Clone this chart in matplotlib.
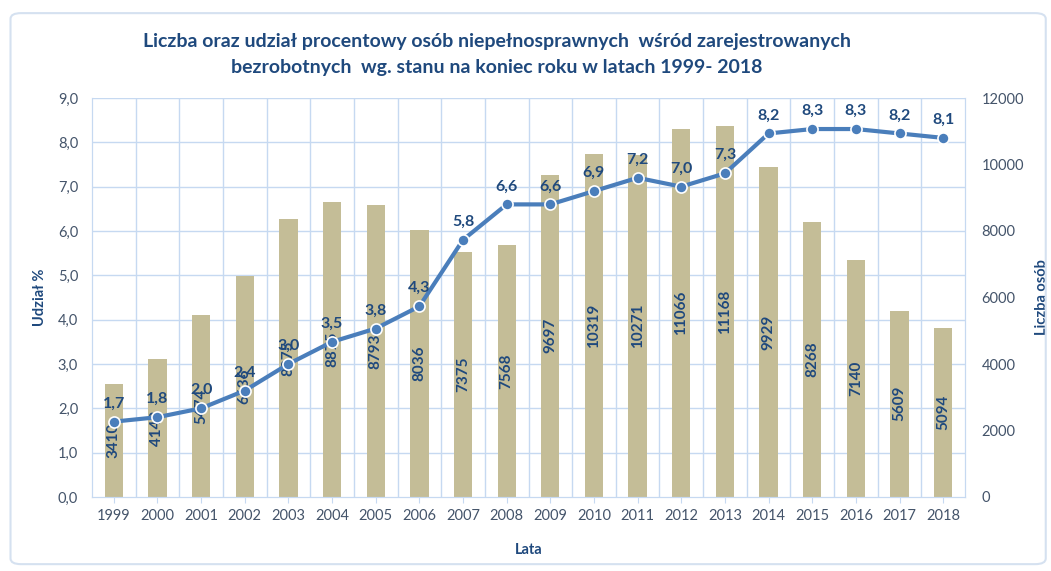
import matplotlib
matplotlib.use("Agg")
import matplotlib.pyplot as plt
from matplotlib.patches import FancyBboxPatch

years = ["1999", "2000", "2001", "2002", "2003", "2004", "2005", "2006", "2007", "2008",
         "2009", "2010", "2011", "2012", "2013", "2014", "2015", "2016", "2017", "2018"]
liczba = [3410, 4142, 5474, 6636, 8375, 8875, 8793, 8036, 7375, 7568,
          9697, 10319, 10271, 11066, 11168, 9929, 8268, 7140, 5609, 5094]
udzial = [1.7, 1.8, 2.0, 2.4, 3.0, 3.5, 3.8, 4.3, 5.8, 6.6,
          6.6, 6.9, 7.2, 7.0, 7.3, 8.2, 8.3, 8.3, 8.2, 8.1]

plt.rcParams['font.family'] = ['Lato', 'DejaVu Sans']

bar_col = '#C4BD97'
line_col = '#4A7EBB'
lab_col = '#1F497D'
tick_col = '#44546A'
grid_col = '#C6D9F1'

fig = plt.figure(figsize=(10.51, 5.71), dpi=100)
fig.patches.append(FancyBboxPatch((0.010, 0.012), 0.985, 0.965, boxstyle="round,pad=0,rounding_size=0.01",
                                  transform=fig.transFigure, fill=False, edgecolor='#D5E1F0', lw=1.5))

ax = fig.add_axes([92/1051, 1-497/571, 873/1051, 399/571])
ax2 = ax.twinx()
ax.set_zorder(2)
ax.patch.set_visible(False)

x = list(range(len(years)))
ax2.bar(x, liczba, width=0.42, color=bar_col, zorder=2)
ax2.set_ylim(0, 12000)
ax2.set_yticks(range(0, 12001, 2000))
for xi, v in zip(x, liczba):
    ax2.text(xi, v / 2, str(v), rotation=90, ha='center', va='center',
             fontsize=11, fontweight='bold', color=lab_col, zorder=3)

ax.plot(x, udzial, color=line_col, lw=3, marker='o', ms=8, mfc=line_col,
        mec='white', mew=1.2, zorder=4)
for xi, v in zip(x, udzial):
    ax.text(xi, v + 0.25, f"{v:.1f}".replace('.', ','), ha='center', va='bottom',
            fontsize=11.5, fontweight='bold', color=lab_col, zorder=5)

ax.set_xlim(-0.5, len(years) - 0.5)
ax.set_ylim(0, 9)
ax.set_yticks(range(0, 10))
ax.set_yticklabels([f"{i},0" for i in range(10)])
ax.set_xticks(x)
ax.set_xticklabels(years)

# grid drawn on the bar axes so it stays behind the bars
for i in range(len(years) - 1):
    ax2.axvline(i + 0.5, color=grid_col, lw=1, zorder=0)
for yv in range(1, 10):
    ax2.axhline(yv * 12000 / 9, color=grid_col, lw=1, zorder=0)

for a in (ax, ax2):
    a.spines['top'].set_visible(False)
    for s in ('left', 'right', 'bottom'):
        a.spines[s].set_color(grid_col)
    a.tick_params(colors=tick_col, labelsize=10.5, length=0)
ax.tick_params(axis='x', length=4, color=grid_col, pad=5)
ax.tick_params(axis='y', pad=10)
ax2.tick_params(axis='y', pad=12)

ax.set_ylabel("Udział %", fontsize=10.5, fontweight='bold', color=lab_col, labelpad=8)
ax2.set_ylabel("Liczba osób", fontsize=10.5, fontweight='bold', color=lab_col, labelpad=8)
ax.set_xlabel("Lata", fontsize=10.5, fontweight='bold', color=lab_col, labelpad=14)

fig.text(497/1051, 1-42/571, "Liczba oraz udział procentowy osób niepełnosprawnych  wśród zarejestrowanych",
         ha='center', va='center', fontsize=14, fontweight='bold', color=lab_col)
fig.text(497/1051, 1-68/571, "bezrobotnych  wg. stanu na koniec roku w latach 1999- 2018",
         ha='center', va='center', fontsize=14, fontweight='bold', color=lab_col)

fig.savefig("out.png", dpi=100)
